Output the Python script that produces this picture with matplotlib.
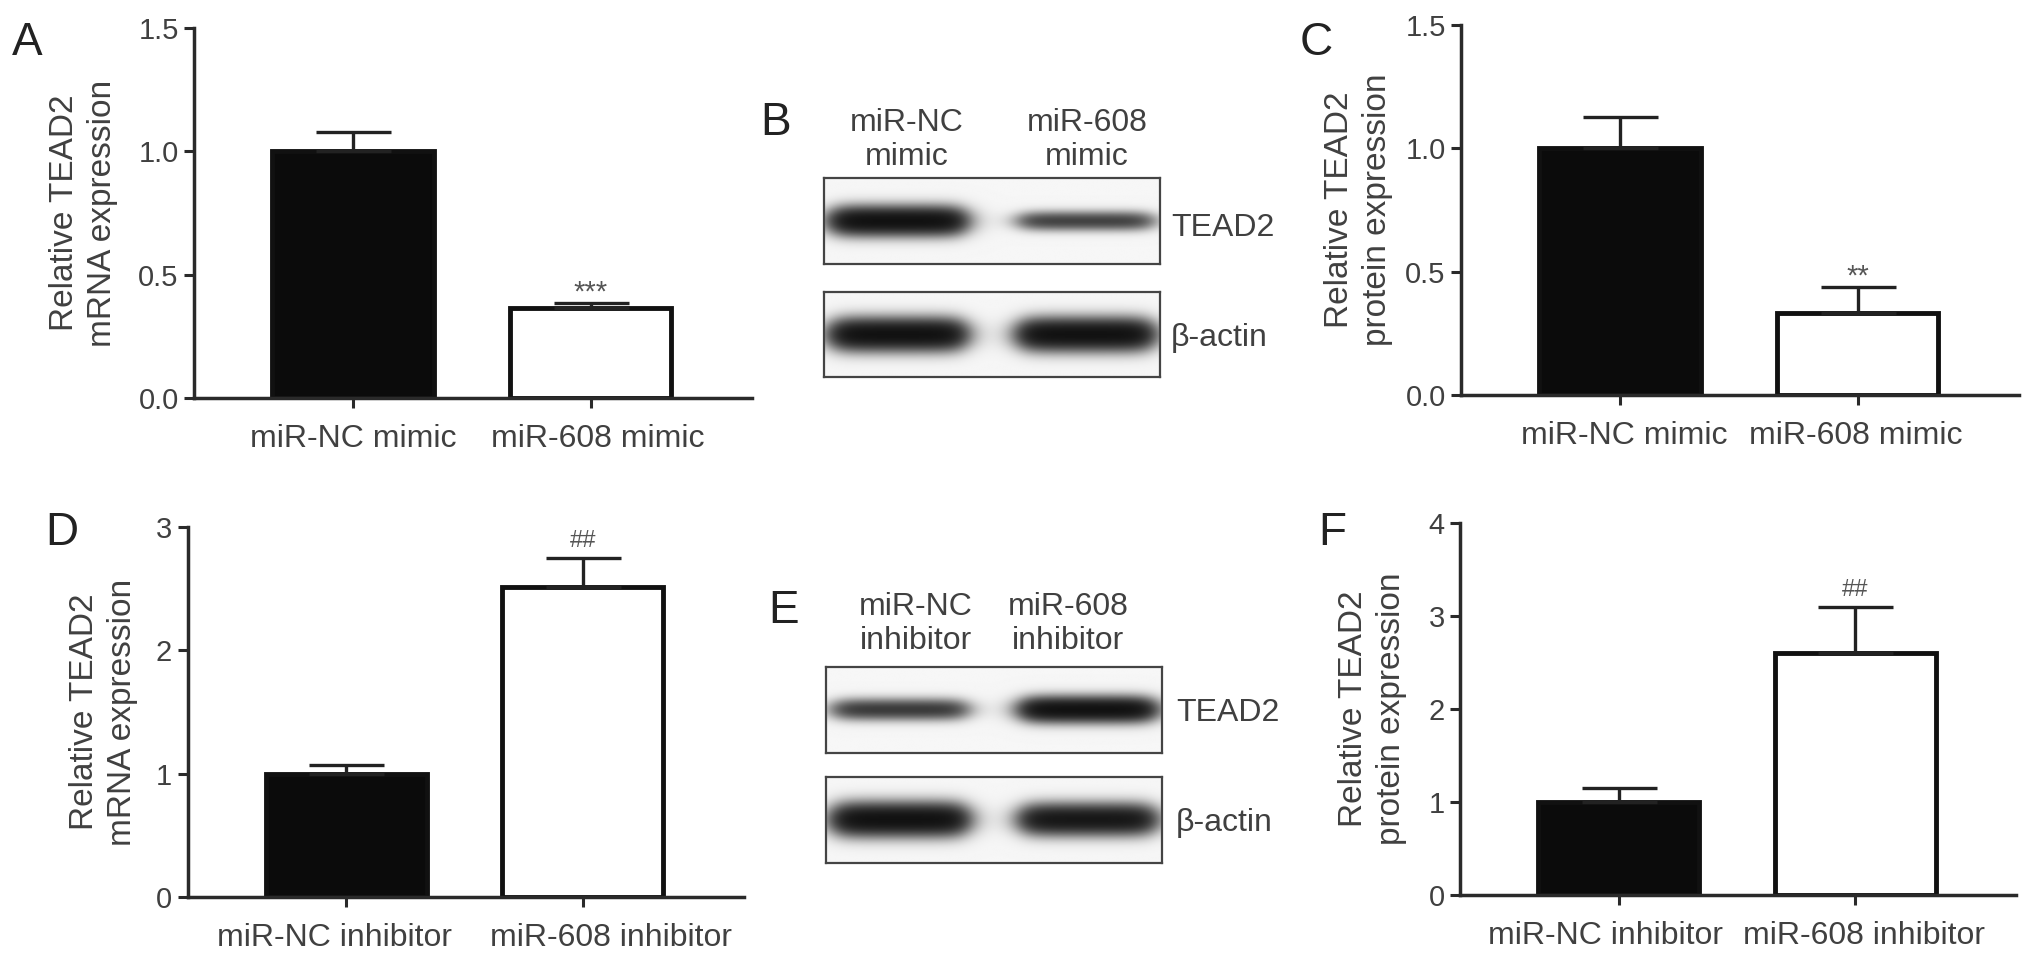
import numpy as np
import matplotlib
matplotlib.use("Agg")
import matplotlib.pyplot as plt
from matplotlib.transforms import ScaledTranslation

plt.rcParams['font.family'] = ['Liberation Sans', 'DejaVu Sans']

# ---- data ----
mimic_groups = ['miR-NC mimic', 'miR-608 mimic']
inhib_groups = ['miR-NC inhibitor', 'miR-608 inhibitor']

mrna_mimic = [1.0, 0.365]
mrna_mimic_err = [0.078, 0.02]
prot_mimic = [1.0, 0.332]
prot_mimic_err = [0.127, 0.106]

mrna_inhib = [1.0, 2.51]
mrna_inhib_err = [0.07, 0.24]
prot_inhib = [1.0, 2.60]
prot_inhib_err = [0.15, 0.50]

# western blot band strength / thickness per lane
blot_b_tead2 = [1.0, 0.5]
blot_b_tead2_thick = [0.15, 0.10]
blot_b_actin = [1.0, 1.0]
blot_b_actin_thick = [0.17, 0.17]
blot_e_tead2 = [0.55, 1.0]
blot_e_tead2_thick = [0.11, 0.13]
blot_e_actin = [1.0, 0.9]
blot_e_actin_thick = [0.17, 0.16]

W, H = 2032, 965
fig = plt.figure(figsize=(W / 100, H / 100), dpi=100)

TXT = '#404040'
LINE = '#2a2a2a'
XT = 23   # x tick / blot label size
YT = 21   # y tick size
YL = 24   # y label size


def rect(l, r, t, b):
    return [l / W, 1 - b / H, (r - l) / W, (b - t) / H]


def ftext(x, y, s, **kw):
    fig.text(x / W, 1 - y / H, s, **kw)


def bar_panel(box, cats, vals, errs, ylim, yticks, ylabels, ylabel, mark, mark_size,
              mark_off, ylab_x, shifts):
    ax = fig.add_axes(rect(*box))
    x = np.arange(len(cats))
    ax.bar(x, vals, width=0.68, color=['#0b0b0b', 'white'], edgecolor='#111111',
           linewidth=3.5, zorder=2)
    ax.errorbar(x, vals, yerr=[np.zeros(len(errs)), errs], fmt='none', ecolor='#222222',
                elinewidth=2.4, capsize=27, capthick=2.4, zorder=3)
    top = vals[1] + errs[1]
    ax.annotate(mark, (1, top), xytext=(0, mark_off), textcoords='offset points',
                ha='center', va='baseline', fontsize=mark_size, color='#555555')
    ax.set_xlim(-0.67, 1.68)
    ax.set_ylim(*ylim)
    ax.set_yticks(yticks)
    ax.set_yticklabels(ylabels)
    ax.set_xticks(x)
    ax.set_xticklabels(cats)
    for s in ['top', 'right']:
        ax.spines[s].set_visible(False)
    for s in ['left', 'bottom']:
        ax.spines[s].set_linewidth(2.5)
        ax.spines[s].set_color(LINE)
    ax.tick_params(axis='y', direction='out', length=7, width=2.2, color=LINE,
                   labelsize=YT, labelcolor=TXT, pad=4)
    ax.tick_params(axis='x', direction='out', length=7, width=2.2, color=LINE,
                   labelsize=XT, labelcolor=TXT, pad=12)
    # GraphPad pushes long category labels apart
    for lab, dx in zip(ax.get_xticklabels(), shifts):
        lab.set_transform(lab.get_transform() + ScaledTranslation(dx / 100, 0, fig.dpi_scale_trans))
    ax.set_ylabel(ylabel, fontsize=YL, color=TXT, linespacing=1.3)
    ax.yaxis.set_label_coords(ylab_x, 0.5)
    return ax


def blot(box, strength, thick):
    ax = fig.add_axes(rect(*box))
    xs = np.linspace(0, 1, 500)
    ys = np.linspace(0, 1, 120)
    X, Y = np.meshgrid(xs, ys)
    img = np.zeros_like(X)
    for c, s, t in zip([0.22, 0.78], strength, thick):
        edge = 0.5 * (np.tanh((X - (c - 0.19)) / 0.045) - np.tanh((X - (c + 0.19)) / 0.045))
        img += s * edge * np.exp(-((Y - 0.5) / t) ** 2)
    img = 0.035 + 0.965 * (1 - np.exp(-2.6 * img))
    ax.imshow(img, cmap='gray_r', vmin=0, vmax=1, extent=(0, 1, 0, 1),
              aspect='auto', origin='lower', interpolation='bilinear')
    ax.set_xticks([])
    ax.set_yticks([])
    for s in ax.spines.values():
        s.set_linewidth(1.6)
        s.set_color('#444444')
    return ax


# A
bar_panel((194, 752, 28, 398), mimic_groups, mrna_mimic, mrna_mimic_err,
          (0, 1.5), [0, 0.5, 1.0, 1.5], ['0.0', '0.5', '1.0', '1.5'],
          'Relative TEAD2\nmRNA expression', '***', 21, 2, -0.136, (0, 7))
# C
bar_panel((1461, 2019, 25, 395), mimic_groups, prot_mimic, prot_mimic_err,
          (0, 1.5), [0, 0.5, 1.0, 1.5], ['0.0', '0.5', '1.0', '1.5'],
          'Relative TEAD2\nprotein expression', '**', 21, 2, -0.122, (4, -2))
# D
bar_panel((187.5, 744, 527, 897), inhib_groups, mrna_inhib, mrna_inhib_err,
          (0, 3), [0, 1, 2, 3], ['0', '1', '2', '3'],
          'Relative TEAD2\nmRNA expression', '##', 17, 8, -0.089, (-12, 28))
# F
bar_panel((1460, 2016, 523, 895), inhib_groups, prot_inhib, prot_inhib_err,
          (0, 4), [0, 1, 2, 3, 4], ['0', '1', '2', '3', '4'],
          'Relative TEAD2\nprotein expression', '##', 17, 8, -0.095, (-13, 9))

# B blots
blot((824, 1160, 178, 264), blot_b_tead2, blot_b_tead2_thick)
blot((824, 1160, 292, 377), blot_b_actin, blot_b_actin_thick)
ftext(907, 140, 'miR-NC\nmimic', ha='center', va='center', fontsize=XT, color=TXT)
ftext(1087, 140, 'miR-608\nmimic', ha='center', va='center', fontsize=XT, color=TXT)
ftext(1171, 228, 'TEAD2', ha='left', va='center', fontsize=XT, color=TXT)
ftext(1171, 338, 'β-actin', ha='left', va='center', fontsize=XT, color=TXT)

# E blots
blot((826, 1162, 667, 753), blot_e_tead2, blot_e_tead2_thick)
blot((826, 1162, 777, 863), blot_e_actin, blot_e_actin_thick)
ftext(916, 624, 'miR-NC\ninhibitor', ha='center', va='center', fontsize=XT, color=TXT)
ftext(1068, 624, 'miR-608\ninhibitor', ha='center', va='center', fontsize=XT, color=TXT)
ftext(1176, 713, 'TEAD2', ha='left', va='center', fontsize=XT, color=TXT)
ftext(1176, 823, 'β-actin', ha='left', va='center', fontsize=XT, color=TXT)

# panel letters
for letter, x, y in [('A', 12, 55), ('B', 760, 135), ('C', 1300, 55),
                     ('D', 45, 545), ('E', 768, 623), ('F', 1318, 545)]:
    ftext(x, y, letter, ha='left', va='baseline', fontsize=33, color='#222222')

fig.savefig('out.png', dpi=100, facecolor='white')
